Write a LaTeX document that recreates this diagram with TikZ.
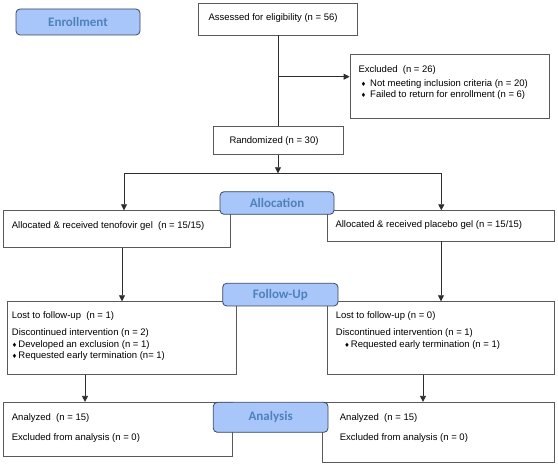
\documentclass[tikz,border=0pt]{standalone}
\usepackage{fontspec}
\setmainfont{Liberation Sans}
\newfontfamily\labfont{Carlito}
\newfontfamily\symfont{DejaVu Sans}
\usetikzlibrary{arrows.meta}
\definecolor{labfill}{RGB}{168,198,250}
\definecolor{labtext}{RGB}{79,129,189}
\definecolor{labdraw}{RGB}{60,70,90}
\definecolor{linec}{RGB}{45,45,45}
\definecolor{boxc}{RGB}{90,90,90}
\newcommand{\dia}{{\symfont\fontsize{6}{6}\selectfont ♦}}
\begin{document}
\begin{tikzpicture}[x=1pt,y=-1pt,
  box/.style={draw=boxc,line width=0.8pt,inner sep=0pt,fill=white},
  lab/.style={draw=labdraw,fill=labfill,rounded corners=4pt,line width=0.8pt,inner sep=0pt,
    text=labtext,font=\labfont\bfseries\fontsize{13}{15}\selectfont},
  txt/.style={anchor=base west,inner sep=0pt,font=\fontsize{9.5}{11}\selectfont},
  conn/.style={draw=linec,line width=0.8pt},
  arr/.style={conn,-{Triangle[length=6pt,width=6pt]}}]
\useasboundingbox (0,0) rectangle (558,465);
% content boxes
\node[box,minimum width=159.7pt,minimum height=32pt] (assess) at (278,19) {};
\node[box,minimum width=199pt,minimum height=64pt] (excl) at (449.5,86) {};
\node[box,minimum width=130pt,minimum height=28.3pt] (rand) at (278,140.2) {};
\node[box,minimum width=227.4pt,minimum height=36.6pt] (allocL) at (117,229) {};
\node[box,minimum width=227.4pt,minimum height=30.3pt] (allocR) at (441,225.85) {};
\node[box,minimum width=229.4pt,minimum height=72.6pt] (fuL) at (122,338) {};
\node[box,minimum width=227.4pt,minimum height=72.6pt] (fuR) at (441,338) {};
\node[box,minimum width=229pt,minimum height=54.4pt] (anL) at (117.8,429.5) {};
\node[box,minimum width=232.4pt,minimum height=60pt] (anR) at (438.5,432.3) {};
% phase labels
\node[lab,minimum width=124pt,minimum height=26pt] (enroll) at (78,22) {Enrollment};
\node[lab,minimum width=114pt,minimum height=22.6pt] (alloclab) at (277,203) {Allocation};
\node[lab,minimum width=115.3pt,minimum height=22.7pt] (fulab) at (280.35,294.65) {Follow-Up};
\node[lab,minimum width=114.7pt,minimum height=30pt] (anlab) at (270.65,417.3) {Analysis};
% texts
\node[txt] (tassess) at (208.3,20.8) {Assessed for eligibility (n = 56)};
\node[txt] (texcl1) at (358.3,72.9) {Excluded\ \ (n = 26)};
\node[txt] (texcl2) at (360.7,86.3) {\makebox[9.3pt][l]{\dia}Not meeting inclusion criteria (n = 20)};
\node[txt] (texcl3) at (360.7,97.9) {\makebox[9.3pt][l]{\dia}Failed to return for enrollment (n = 6)};
\node[txt] (trand) at (229.3,143.6) {Randomized (n = 30)};
\node[txt] (tallocL) at (11.7,228.6) {Allocated \& received tenofovir gel\ \ (n = 15/15)};
\node[txt] (tallocR) at (335.3,227.6) {Allocated \& received placebo gel (n = 15/15)};
\node[txt] (tfuL1) at (11.7,318.6) {Lost to follow-up\ \ (n = 1)};
\node[txt] (tfuL2) at (11.7,335.6) {Discontinued intervention (n = 2)};
\node[txt] (tfuL3) at (11.7,347.3) {\makebox[6.5pt][l]{\dia}Developed an exclusion (n = 1)};
\node[txt] (tfuL4) at (11.7,358.6) {\makebox[6.5pt][l]{\dia}Requested early termination (n= 1)};
\node[txt] (tfuR1) at (335.7,318.6) {Lost to follow-up (n = 0)};
\node[txt] (tfuR2) at (335.7,335.6) {Discontinued intervention (n = 1)};
\node[txt] (tfuR3) at (344.2,347.3) {\makebox[6.5pt][l]{\dia}Requested early termination (n = 1)};
\node[txt] (tanL1) at (11.7,420.9) {Analyzed\ \ (n = 15)};
\node[txt] (tanL2) at (11.7,440.9) {Excluded from analysis (n = 0)};
\node[txt] (tanR1) at (339.7,420.9) {Analyzed\ \ (n = 15)};
\node[txt] (tanR2) at (339.7,440.9) {Excluded from analysis (n = 0)};
% connectors
\coordinate (br) at (278,76.7);
\coordinate (split) at (278,173.3);
\coordinate (aL) at (124,173.3);
\coordinate (aR) at (441.3,173.3);
\coordinate (cL) at (85,0);
\coordinate (cR) at (423,0);
\draw[conn] (assess.south) -- (rand.north);
\draw[arr] (br) -- (br -| excl.west);
\draw[arr] (rand.south) -- (split);
\draw[conn] (aL) -- (aR);
\draw[arr] (aL) -- (aL |- allocL.north);
\draw[arr] (aR) -- (aR |- allocR.north);
\draw[arr] (allocL.south -| fuL.north) -- (fuL.north);
\draw[arr] (allocR.south) -- (fuR.north);
\draw[arr] (fuL.south -| cL) -- (anL.north -| cL);
\draw[arr] (fuR.south -| cR) -- (anR.north -| cR);
\end{tikzpicture}
\end{document}
